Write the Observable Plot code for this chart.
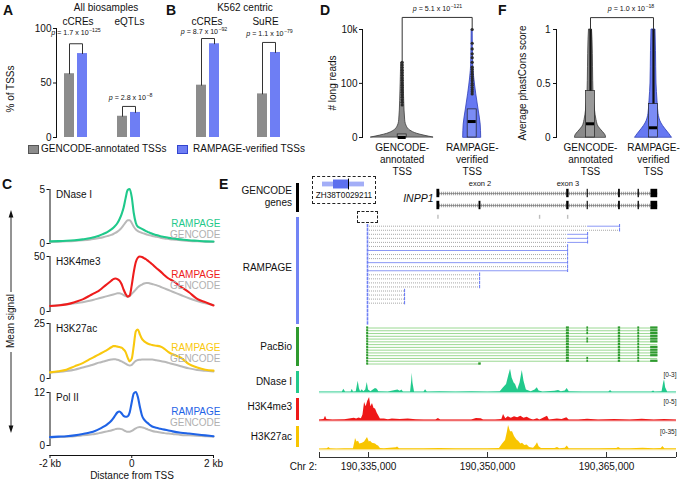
<!DOCTYPE html>
<html>
<head>
<meta charset="utf-8">
<script src="https://cdn.jsdelivr.net/npm/d3@7"></script>
<script src="https://cdn.jsdelivr.net/npm/@observablehq/plot@0.6"></script>
<style>
html,body{margin:0;padding:0;background:#fff;}
#fig{position:relative;width:680px;height:483px;overflow:hidden;background:#fff;font-family:"Liberation Sans",Arial,Helvetica,sans-serif;color:#111;}
.t{position:absolute;white-space:nowrap;line-height:1;}
.sup{font-size:5.2px;position:relative;top:-3px;margin-left:0.4px;}
.box{position:absolute;border:1px dashed #222;box-sizing:border-box;}
.tb{position:absolute;width:3.6px;left:295.7px;}
.sw{position:absolute;box-sizing:border-box;border:1px solid;width:11px;height:9px;top:145px;}
</style>
</head>
<body>
<div id="fig"></div>
<script>
// ================= DATA =================
// Panels A / B: % of TSSs overlapping
const seriesNames = ["GENCODE-annotated TSSs", "RAMPAGE-verified TSSs"];
const barColors = ["#8c8c8c", "#6e7ef4"];
const barTicks = [0, 50, 100];
const aTitle = "All biosamples";
const aCategories = ["cCREs", "eQTLs"];
const aGencode = [58.5, 19.5];
const aRampage = [77, 23];
const aBracket = [86, 28.5];
const aPMantissa = ["1.7", "2.8"];
const aPExponent = ["−125", "−8"];
const bTitle = "K562 centric";
const bCategories = ["cCREs", "SuRE"];
const bGencode = [48, 40];
const bRampage = [86, 78];
const bBracket = [90.8, 87.2];
const bPMantissa = ["8.7", "1.1"];
const bPExponent = ["−92", "−79"];

// Panels D / F: violins
const violinCategories = ["GENCODE-\nannotated\nTSS", "RAMPAGE-\nverified\nTSS"];
const dTicks = [0, 100, 10000];
const dTickLabels = ["0", "100", "10k"];
const dGencodeLevels = [0, 0.37, 0.82, 1.4, 3.3, 22, 100, 600];
const dGencodeWidth = [31, 15, 8, 5, 3, 2, 1.5, 1];
const dRampageLevels = [0, 2, 9, 41, 166, 500, 10000];
const dRampageWidth = [9, 8.5, 6.5, 4, 2, 1, 0.5];
const dGencodeBox = [0, 0, 0.3];      // q1, median, q3
const dRampageBox = [0, 2.9, 10];
const dGencodeOutliers = [15, 19, 24, 30, 37, 46, 57, 70, 86, 105, 130, 160, 200, 250, 310, 390, 480, 600];
const dRampageOutliers = [40, 48, 58, 70, 85, 100, 125, 150, 180, 220, 270, 330, 400, 610, 900, 1250, 1900, 3100, 10000];
const dBracket = 28000;
const dPValue = ["5.1", "−121"];

const fTicks = [0, 0.5, 1];
const fGencodeLevels = [0, 0.02, 0.05, 0.1, 0.16, 0.25, 0.4, 0.65, 0.9, 1.0];
const fGencodeWidth = [15.5, 15, 12.5, 8, 6, 4.5, 3, 2.5, 2, 1.5];
const fRampageLevels = [0, 0.03, 0.08, 0.13, 0.22, 0.34, 0.5, 0.8, 1.0];
const fRampageWidth = [18.3, 16, 11.7, 8, 5, 4, 3, 2.5, 2];
const fGencodeBox = [0, 0.127, 0.43];
const fRampageBox = [0, 0.09, 0.31];
const fMax = [1, 1];
const fBracket = 1.11;
const fPValue = ["1.0", "−18"];

// Panel C: aggregate profiles around TSS
const cPositions = [-2000,-1800,-1600,-1400,-1200,-1000,-900,-800,-700,-600,-500,-450,-400,-350,-300,-250,-200,-150,-100,-50,0,50,100,150,200,250,300,350,400,450,500,600,700,800,900,1000,1200,1400,1600,1800,2000];
const cTrackNames = ["DNase I", "H3K4me3", "H3K27ac", "Pol II"];
const cTrackMax = [5, 50, 25, 12];
const cTrackColors = ["#1fc98b", "#ee1c1c", "#f9c80e", "#1f63e6"];
const dnaseRampage = [0.2,0.22,0.25,0.3,0.38,0.5, 0.6,0.72,0.88,1.05, 1.3,1.45,1.65,1.9,2.25,2.7,3.3,4.2,4.95,5.05,4.3,2.8,1.9,1.55,1.45,1.35,1.25,1.15,1.05,0.98,0.9, 0.78,0.68,0.6,0.52,0.46, 0.38,0.3,0.25,0.2,0.18];
const dnaseGencode = [0.15,0.17,0.2,0.24,0.3,0.38, 0.43,0.5,0.58,0.68, 0.8,0.88,0.98,1.1,1.25,1.45,1.7,1.95,2.15,2.15,1.9,1.55,1.3,1.15,1.05,0.98,0.92,0.86,0.8,0.75,0.7, 0.62,0.54,0.47,0.42,0.37, 0.3,0.24,0.2,0.17,0.15];
const h3k4me3Rampage = [5,5.5,6.5,8.5,11,15, 17,19,22,25, 28,29.5,30,29.5,28,25,20,16,13.5,14.5,24,36,45,49,50,49.5,48.5,47.5,46,44.5,43, 39.5,36.5,33,30,28, 22.5,17.5,11.5,8.5,5.5];
const h3k4me3Gencode = [5,6,6.5,7.5,8.5,10, 11,12,13,14, 15,15.5,16,16.5,16.5,16,15,14,13.5,14,16,18,20,22,23.5,24.5,25.5,26,26,25.5,25, 24,22.5,21,19.5,18, 15,12,9.5,7.5,6];
const h3k27acRampage = [2.8,3.3,4,5.5,7,9, 10,11,12,13, 14.2,14.7,14.7,14.5,14.3,14,13.2,12,9.5,7.8,9,15,21.5,22.3,20,18,17,16.3,15.8,15.5,15.2, 14.9,14.5,13.5,12,11, 9.5,6.5,5,4,3.6];
const h3k27acGencode = [2.7,3,3.4,4,5,6, 6.6,7.2,7.7,8.2, 8.6,8.7,8.7,8.5,8.2,7.8,7.3,6.8,6.2,5.9,6.2,7.2,8,8.4,8.5,8.6,8.6,8.6,8.6,8.6,8.6, 8.3,8,7.6,7.1,6.6, 5.6,4.6,3.9,3.5,3.2];
const polIIRampage = [1.9,2,2.1,2.3,2.6,3, 3.3,3.7,4.2,4.8, 5.6,6.2,6.9,7.5,7.7,7.3,6.7,6.5,6.6,7.5,9.8,11.8,12.1,11,8.7,6.8,5.9,5.4,5,4.6,4.3, 4,3.8,3.6,3.4,3.2, 2.9,2.7,2.5,2.3,2.1];
const polIIGencode = [1.8,1.9,2,2.1,2.3,2.5, 2.6,2.8,3,3.2, 3.4,3.55,3.7,3.8,3.8,3.7,3.5,3.25,3.1,3.1,3.3,3.6,3.9,4.1,4.2,4.1,4,3.8,3.6,3.45,3.3, 3.1,2.95,2.8,2.7,2.6, 2.4,2.3,2.2,2.1,2];
const cXTicks = [-2000, 0, 2000];

// Panel E: genome browser (positions in kb on chr2)
const eDomain = [190328.82, 190373.82];
const eRulerTicks = [190335, 190350, 190365];
const geneName = "INPP1";
const geneStart = 190343.70, geneEnd = 190371.45;
const geneExonStart = [190343.62, 190348.93, 190359.98, 190362.56, 190366.52, 190368.98, 190370.60];
const geneExonEnd   = [190343.98, 190349.17, 190360.28, 190362.70, 190366.74, 190369.14, 190371.45];
const geneExonLabels = ["", "exon 2", "exon 3", "", "", "", ""];
const transcript1Exons = [0, 2, 3, 4, 5, 6];
const transcript2Exons = [0, 1, 2, 3, 4, 5, 6];
const geneGrayMarks = [190343.75, 190356.56, 190360.10];
const insetName = "ZH38T0029211";
const insetThin = [190334.65, 190335.07];
const insetThick = [190334.76, 190334.91];
const insetMark = 190334.91;
const insetDomain = [190334.55, 190335.19];
const rampageTss = 190334.87;
const rampageEnds = [190366.64,190366.64,190362.61,190362.61,190362.61,190360.09,190360.09,190360.09,190360.09,190360.09,190360.09,190360.09,190349.0,190349.0,190349.0,190349.0,190339.54,190339.54,190339.54,190339.54,190334.87,190334.87,190334.87,190334.87,190334.87];
const rampageJunctions = [190362.61,null,190360.09,190360.09,190360.09,null,null,null,null,null,null,null,null,null,null,null,null,null,null,null,null,null,null,null,null];
const rampageSolid = [0,0,0,0,0,0,1,0,0,1,0,1,0,0,0,0,0,0,0,0,0,0,0,0,0];
const pbExonStart = [190334.80, 190348.93, 190359.98, 190362.56, 190366.52, 190368.98, 190370.60];
const pbExonEnd   = [190334.98, 190349.17, 190360.28, 190362.70, 190366.74, 190369.14, 190371.45];
const pacbioEnds = [190371.45,190371.45,190371.45,190371.45,190371.45,190371.45,190371.45,190371.45,190371.45,190371.45,190371.45,190371.45,190371.45,190349.17];
const pacbioExonSets = [[0,2,3,4,5,6],[0,2,3,4,5,6],[0,2,3,4,5,6],[0,2,4,5,6],[0,2,3,4,5,6],[0,2,3,4,5,6],[0,2,4,5],[0,2,4,5,6],[0,2,4,5,6],[0,2,4,5,6],[0,2,4,5,6],[0,2,3,4,5],[0,2,3,4,5,6],[0,1]];
const dnasePos = [190328.82,190330.5,190331.7,190331.89,190332.1,190332.8,190332.95,190333.1,190333.45,190333.6,190333.7,190333.85,190334.0,190334.21,190334.4,190334.65,190334.84,190335.0,190335.3,190335.6,190335.88,190336.1,190336.3,190337.5,190338.7,190339.0,190339.2,190339.4,190340.3,190340.45,190340.51,190340.6,190340.8,190342.0,190342.19,190342.4,190344,190346,190348,190350,190351.6,190352.02,190352.4,190352.7,190352.9,190353.1,190353.35,190353.53,190353.8,190354.1,190354.38,190354.6,190354.9,190355.5,190356.0,190356.27,190356.5,190357,190358.5,190358.95,190359.3,190359.8,190360.04,190360.3,190362,190364,190365.3,190365.51,190365.7,190368,190370.7,190370.93,190371.1,190372.0,190372.2,190372.31,190372.45,190372.7,190373.82];
const dnaseVal = [0.05,0.05,0.05,0.4,0.05,0.05,0.4,0.05,0.1,0.9,1.4,0.5,0.1,0.35,0.1,0.3,1.25,0.3,0.1,0.3,0.5,0.4,0.1,0.05,0.3,0.15,0.3,0.05,0.05,1.5,2.4,1.2,0.05,0.05,0.35,0.05,0.1,0.05,0.1,0.05,0.1,0.6,1.0,2.2,2.9,1.8,1.2,1.0,0.3,1.2,2.75,1.4,0.3,0.1,0.3,0.6,0.2,0.05,0.15,0.25,0.1,0.2,0.5,0.1,0.05,0.05,0.05,0.25,0.05,0.05,0.05,0.2,0.05,0.1,1.2,1.6,0.6,0.05,0.05];
const h3k4me3Pos = [190328.82,190329.4,190329.58,190329.75,190330.5,190332,190333.2,190333.5,190333.8,190334.1,190334.3,190334.5,190334.7,190334.9,190335.13,190335.3,190335.5,190335.7,190335.88,190336.1,190336.26,190336.5,190337,190337.5,190338,190339,190340,190341,190342,190343.5,190343.8,190344.1,190346,190348,190348.6,190349.2,190349.5,190351,190351.8,190352.02,190352.3,190352.6,190353,190353.4,190353.8,190354.2,190354.6,190355,190355.4,190355.8,190356.3,190356.6,190357.56,190357.8,190358.8,190359.4,190360.0,190360.3,190361.5,190362.61,190364,190366,190368,190369.5,190371,190372.3,190373.82];
const h3k4me3Val = [0.1,0.2,0.9,0.2,0.1,0.15,0.5,0.3,0.55,0.4,1.2,3.9,3.0,4.2,5,3.0,3.7,2.6,2.5,1.6,1.1,0.3,0.3,0.15,0.35,0.2,0.3,0.15,0.1,0.1,0.45,0.1,0.1,0.1,0.45,0.4,0.1,0.1,0.2,1.3,0.4,0.8,0.5,0.8,0.6,0.9,0.5,0.7,0.3,0.1,0.4,0.1,0.9,0.1,0.35,0.2,0.6,0.1,0.1,0.25,0.1,0.2,0.1,0.25,0.1,0.2,0.1];
const h3k27acPos = [190328.82,190329.8,190330.0,190330.2,190331,190332,190333.1,190333.3,190333.36,190333.55,190333.74,190333.9,190334.24,190334.5,190334.87,190335.1,190335.25,190335.5,190335.88,190336.1,190336.26,190336.5,190337,190338.5,190338.66,190338.9,190340,190342,190344,190346,190348,190350,190351.5,190351.9,190352.27,190352.5,190352.65,190352.9,190353.15,190353.4,190353.7,190353.91,190354.2,190354.41,190354.7,190355.0,190355.3,190355.8,190356.1,190356.3,190356.5,190356.8,190358.5,190358.82,190359.1,190359.8,190360.05,190360.3,190362,190364,190366.3,190366.52,190366.8,190368,190369.6,190371,190371.9,190372.1,190372.35,190373.82];
const h3k27acVal = [0.8,1.0,3,1.0,0.8,1.0,1.2,12,16,11,12,8,9,11,17.5,11,12,9,8,6,5,1.5,1.0,2.5,3.5,1.0,1.2,1.0,1.3,1.0,1.2,1.2,1.5,8,13,25,35,26,26,19,14,12,8,9,6,6.5,3,2,6,10,4,1.5,1.5,3,1.2,2,5,1.2,1.2,1.2,1.5,3,1.2,1.2,2,1.2,1.5,4.5,1.2,1.0];
const signalNames = ["DNase I", "H3K4me3", "H3K27ac"];
const signalRanges = ["[0-3]", "[0-5]", "[0-35]"];
const signalMax = [3, 5, 35];
const signalColors = ["#22c98c", "#ee1818", "#f8c500"];
const signalBase = ["#a6ead0", "#f06a6a", "#fbe38a"];

// ================= HELPERS =================
const fig = document.getElementById("fig");
const FONT = '"Liberation Sans", Arial, Helvetica, sans-serif';
const baseStyle = {fontFamily: FONT, fontSize: "10px", background: "transparent", overflow: "visible", color: "#111"};
function place(el, left, top) {
  el.style.position = "absolute"; el.style.left = left + "px"; el.style.top = top + "px";
  fig.appendChild(el); return el;
}
function T(html, x, y, o = {}) {
  const d = document.createElement("div");
  d.className = "t"; d.innerHTML = html;
  const tx = o.anchor === "start" ? "0" : o.anchor === "end" ? "-100%" : "-50%";
  d.style.left = x + "px"; d.style.top = y + "px";
  d.style.fontSize = (o.size || 10) + "px";
  if (o.weight) d.style.fontWeight = o.weight;
  if (o.color) d.style.color = o.color;
  if (o.italic) d.style.fontStyle = "italic";
  d.style.transform = `translate(${tx},-50%)` + (o.rotate ? ` rotate(${o.rotate}deg)` : "");
  fig.appendChild(d); return d;
}
function pval(m, e, x, y) { T(`<i>p</i> = ${m} x 10<span class="sup">${e}</span>`, x, y, {size: 7.1}); }

// ================= PANELS A / B =================
function barPanel(cats, gen, ramp, br, o) {
  const rows = cats.flatMap((c, i) => [
    {cat: c, s: seriesNames[0], v: gen[i]}, {cat: c, s: seriesNames[1], v: ramp[i]}]);
  const brRows = cats.flatMap((c, i) => [
    {cat: c, s: seriesNames[0], v: gen[i]}, {cat: c, s: seriesNames[0], v: br[i]},
    {cat: c, s: seriesNames[1], v: br[i]}, {cat: c, s: seriesNames[1], v: ramp[i]}]);
  return Plot.plot({
    width: o.width, height: 145, marginLeft: o.ml, marginRight: o.mr, marginTop: 28, marginBottom: 8,
    style: baseStyle,
    fx: {domain: cats, paddingInner: o.fpi, paddingOuter: o.fpo, axis: null, label: null},
    x: {domain: seriesNames, paddingInner: 0.222, paddingOuter: 0.593, axis: null},
    y: {domain: [0, 100], ticks: barTicks, tickFormat: d => String(d), tickSize: 3, tickPadding: 2, line: true, label: null, axis: o.axis ? "left" : null},
    color: {domain: seriesNames, range: barColors},
    marks: [
      Plot.barY(rows, {fx: "cat", x: "s", y: "v", fill: "s"}),
      Plot.line(brRows, {fx: "cat", x: "s", y: "v", z: "cat", stroke: "#333", strokeWidth: 1})
    ]
  });
}
place(barPanel(aCategories, aGencode, aRampage, aBracket, {width: 170, ml: 44, mr: 9.02, fpi: 0.25, fpo: 0.2195, axis: true}), 0, 0);
place(barPanel(bCategories, bGencode, bRampage, bBracket, {width: 140, ml: 0, mr: 3.9, fpi: 0.348, fpo: 0.2807, axis: false}), 170, 0);

// ================= VIOLIN PANELS (D, F) =================
function violinPanel(o) {
  const marks = [];
  o.levels.forEach((lv, k) => {
    const rows = lv.map((v, j) => ({v, w: o.widths[k][j] / o.pxPerCat}));
    marks.push(Plot.areaX(rows, {y: "v", x1: d => k - d.w, x2: d => k + d.w, fill: o.fills[k], stroke: o.strokes[k], strokeWidth: 0.8, curve: "monotone-y"}));
  });
  o.boxes.forEach((b, k) => {
    marks.push(Plot.rect([b], {x1: k - 4.5 / o.pxPerCat, x2: k + 4.5 / o.pxPerCat, y1: d => d[0], y2: d => d[2], fill: o.boxFills[k], stroke: "#222", strokeWidth: 0.7}));
  });
  if (o.whisker) o.whisker.forEach((mx, k) => marks.push(Plot.ruleX([k], {x: d => d, y1: o.boxes[k][2], y2: mx, stroke: "#111", strokeWidth: 2.2})));
  if (o.outliers) o.outliers.forEach((pts, k) => marks.push(Plot.dot(pts, {x: () => k, y: d => d, r: 1.6, fill: "#2a2a2a", stroke: "none"})));
  o.boxes.forEach((b, k) => marks.push(Plot.ruleY([b[1]], {y: d => d, x1: k - 4 / o.pxPerCat, x2: k + 4 / o.pxPerCat, stroke: "#000", strokeWidth: 3})));
  const tops = o.tops;
  marks.push(Plot.line([{x: 0, y: tops[0]}, {x: 0, y: o.bracket}, {x: 1, y: o.bracket}, {x: 1, y: tops[1]}], {x: "x", y: "y", stroke: "#333", strokeWidth: 1}));
  marks.push(Plot.text(violinCategories, {x: (d, i) => i, text: d => d, frameAnchor: "bottom", lineAnchor: "top", dy: 5, lineHeight: 1.2, fill: "#111"}));
  return Plot.plot({
    width: o.width, height: 185, marginLeft: o.ml, marginRight: o.mr, marginTop: 29, marginBottom: 48,
    style: baseStyle,
    x: {domain: o.xdomain, axis: null},
    y: o.y,
    marks
  });
}
place(violinPanel({
  width: 215, ml: 62, mr: 3, xdomain: [-0.567, 1.576], pxPerCat: 70,
  y: {type: "symlog", constant: 1, domain: [0, 10000], ticks: dTicks, tickFormat: d => dTickLabels[dTicks.indexOf(d)], tickSize: 3, tickPadding: 2, line: true, label: null},
  levels: [dGencodeLevels, dRampageLevels], widths: [dGencodeWidth, dRampageWidth],
  fills: ["#8a8a8a", "#6678f2"], strokes: ["#3a3a3a", "#2c3cb8"], boxFills: ["#9a9a9a", "#7b8cf5"],
  boxes: [dGencodeBox, dRampageBox],
  outliers: [dGencodeOutliers, dRampageOutliers],
  tops: [d3.max(dGencodeOutliers), d3.max(dRampageOutliers)], bracket: dBracket
}), 300, 0);
place(violinPanel({
  width: 180, ml: 56, mr: 2, xdomain: [-0.54, 1.397], pxPerCat: 63,
  y: {domain: [0, 1], ticks: fTicks, tickFormat: d => String(d), tickSize: 3, tickPadding: 3, line: true, label: null},
  levels: [fGencodeLevels, fRampageLevels], widths: [fGencodeWidth, fRampageWidth],
  fills: ["#8a8a8a", "#6678f2"], strokes: ["#3a3a3a", "#2c3cb8"], boxFills: ["#9a9a9a", "#7b8cf5"],
  boxes: [fGencodeBox, fRampageBox], whisker: fMax,
  tops: fMax, bracket: fBracket
}), 500, 0);

// ================= PANEL C =================
const cRampage = [dnaseRampage, h3k4me3Rampage, h3k27acRampage, polIIRampage];
const cGencode = [dnaseGencode, h3k4me3Gencode, h3k27acGencode, polIIGencode];
const cTop = [189, 256, 323, 392], cBottom = [243, 311, 378, 445];
const cLabelDy = [30, 14, 20, 15];
cTrackNames.forEach((name, i) => {
  const rows = arr => cPositions.map((p, j) => ({pos: p, v: arr[j]}));
  const svg = Plot.plot({
    width: 230, height: cBottom[i] - cTop[i] + 12, marginTop: 8, marginBottom: 4, marginLeft: 49.5, marginRight: 17,
    style: baseStyle,
    x: {domain: [-2000, 2000], axis: null},
    y: {domain: [0, cTrackMax[i]], ticks: [0, cTrackMax[i]], tickFormat: d => String(d), tickSize: 3, tickPadding: 2, line: true, label: null},
    marks: [
      Plot.line(rows(cGencode[i]), {x: "pos", y: "v", stroke: "#b9b9b9", strokeWidth: 2, curve: "monotone-x"}),
      Plot.line(rows(cRampage[i]), {x: "pos", y: "v", stroke: cTrackColors[i], strokeWidth: 2.1, curve: "monotone-x"}),
      Plot.text([name], {text: d => d, frameAnchor: "top-left", dx: 6, dy: 1, textAnchor: "start", fill: "#111"}),
      Plot.text(["RAMPAGE"], {text: d => d, frameAnchor: "top-right", dx: 7, dy: cLabelDy[i], textAnchor: "end", fill: cTrackColors[i]}),
      Plot.text(["GENCODE"], {text: d => d, frameAnchor: "top-right", dx: 7, dy: cLabelDy[i] + 11, textAnchor: "end", fill: "#b0b0b0"})
    ]
  });
  place(svg, 0, cTop[i] - 8);
});
place(Plot.plot({
  width: 230, height: 33, marginTop: 0, marginBottom: 28, marginLeft: 49.5, marginRight: 17,
  style: baseStyle,
  x: {domain: [-2000, 2000], ticks: cXTicks, tickFormat: d => d === 0 ? "0" : (d < 0 ? "-" : "") + Math.abs(d) / 1000 + " kb", tickSize: 3, tickPadding: 1, line: true, label: null},
  marks: [Plot.ruleX(cXTicks, {x: d => d, strokeOpacity: 0})]
}), 0, 450);

// ================= PANEL E =================
function ePlot(top, height, mt, mb, y, marks) {
  return place(Plot.plot({
    width: 380, height, marginLeft: 19, marginRight: 4, marginTop: mt, marginBottom: mb,
    style: baseStyle, x: {domain: eDomain, axis: null}, y, marks
  }), 300, top);
}
// gene models
const geneRows = [transcript1Exons, transcript2Exons];
const exonRows = geneRows.flatMap((set, r) => set.map(k => ({row: r, s: geneExonStart[k], e: geneExonEnd[k]})));
const exonLabelRows = geneExonLabels.map((l, k) => ({l, x: (geneExonStart[k] + geneExonEnd[k]) / 2})).filter(d => d.l);
ePlot(176, 50, 17, 9, {domain: [0, 2], reverse: true, axis: null}, [
  Plot.ruleY([0, 1], {y: d => d, x1: geneStart, x2: geneEnd, stroke: "#a3a3a3", strokeWidth: 3.6, strokeDasharray: "1.1,0.9"}),
  Plot.ruleY([0, 1], {y: d => d, x1: geneStart, x2: geneEnd, stroke: "#6d6d6d", strokeWidth: 0.6}),
  Plot.rect(exonRows, {x1: "s", x2: "e", y1: d => d.row - 0.35, y2: d => d.row + 0.35, fill: "#000"}),
  Plot.ruleX(geneGrayMarks, {x: d => d, y1: 1.82, y2: 2.15, stroke: "#bdbdbd", strokeWidth: 1.4}),
  Plot.text([geneName], {text: d => d, x: geneStart, y: 0.45, dx: -4, textAnchor: "end", fontStyle: "italic", fontSize: 10.5, fill: "#111"}),
  Plot.text(exonLabelRows, {text: "l", x: "x", y: 0, dy: -10, fontSize: 7.5, fill: "#111"})
]);
// inset gene
place(Plot.plot({
  width: 64, height: 16, margin: 0, style: baseStyle,
  x: {domain: insetDomain, axis: null}, y: {domain: [-1, 1], axis: null},
  marks: [
    Plot.rect([insetThin], {x1: d => d[0], x2: d => d[1], y1: -0.3, y2: 0.3, fill: "#a3aef7"}),
    Plot.rect([insetThick], {x1: d => d[0], x2: d => d[1], y1: -0.56, y2: 0.56, fill: "#5d70ee"}),
    Plot.ruleX([insetMark], {x: d => d, y1: -0.68, y2: 0.68, stroke: "#000", strokeWidth: 1})
  ]
}), 312, 176);
// RAMPAGE reads
const rampRows = rampageEnds.map((e, i) => ({row: i, end: e, j: rampageJunctions[i], solid: rampageSolid[i]}));
ePlot(218, 112, 7.7, 7.1, {domain: [0, rampRows.length - 1], reverse: true, axis: null}, [
  Plot.ruleY(rampRows.filter(d => !d.solid && d.end > rampageTss), {y: "row", x1: rampageTss, x2: d => d.j ?? d.end, stroke: "#9c9c9c", strokeWidth: 0.9, strokeDasharray: "1,1"}),
  Plot.ruleY(rampRows.filter(d => d.solid), {y: "row", x1: rampageTss, x2: "end", stroke: "#8b98f5", strokeWidth: 1}),
  Plot.ruleY(rampRows.filter(d => d.j), {y: "row", x1: "j", x2: "end", stroke: "#8b98f5", strokeWidth: 1}),
  Plot.ruleX(rampRows, {x: rampageTss, y1: d => d.row - 0.42, y2: d => d.row + 0.42, stroke: "#6f80f5", strokeWidth: 1.6}),
  Plot.ruleX(rampRows.filter(d => d.end > rampageTss), {x: "end", y1: d => d.row - 0.42, y2: d => d.row + 0.42, stroke: "#6f80f5", strokeWidth: 1.1})
]);
// PacBio reads
const pbRows = pacbioEnds.map((e, i) => ({row: i, end: e}));
const pbExons = pacbioExonSets.flatMap((set, i) => set.map(k => ({row: i, s: pbExonStart[k], e: pbExonEnd[k]})));
ePlot(324, 46, 3.5, 6.5, {domain: [0, pbRows.length - 1], reverse: true, axis: null}, [
  Plot.ruleY(pbRows, {y: "row", x1: rampageTss, x2: "end", stroke: "#8fd486", strokeWidth: 0.9}),
  Plot.rect(pbExons, {x1: "s", x2: "e", y1: d => d.row - 0.4, y2: d => d.row + 0.4, fill: "#2f9a2f", insetLeft: -0.3, insetRight: -0.3})
]);
// signal tracks
const sigPos = [dnasePos, h3k4me3Pos, h3k27acPos];
const sigVal = [dnaseVal, h3k4me3Val, h3k27acVal];
const sigTop = [366, 395, 423], sigH = [28, 27, 28], sigLabelDy = [3.5, 1.5, 3.5];
signalNames.forEach((n, i) => {
  const rows = sigPos[i].map((p, j) => ({pos: p, v: sigVal[i][j]}));
  ePlot(sigTop[i], sigH[i], 2, 2, {domain: [0, signalMax[i]], axis: null}, [
    Plot.ruleY([0], {y: d => d, stroke: signalBase[i], strokeWidth: 1.6}),
    Plot.areaY(rows, {x: "pos", y: "v", fill: signalColors[i], curve: "linear"}),
    Plot.text([signalRanges[i]], {text: d => d, frameAnchor: "top-right", dy: sigLabelDy[i], textAnchor: "end", fontSize: 6.5, fill: "#222"})
  ]);
});
// ruler
ePlot(448, 35, 4, 26, {domain: [0, 1], axis: null}, [
  Plot.ruleY([0], {y: d => d, stroke: "#333", strokeWidth: 1}),
  Plot.tickX(eRulerTicks.concat(eDomain), {x: d => d, stroke: "#333", strokeWidth: 1}),
  Plot.axisX({ticks: eRulerTicks, tickFormat: d => d3.format(",")(Math.round(d * 1000)), tickSize: 0, tickPadding: 5, fontSize: 10})
]);

// ================= TEXT / DECORATION =================
T("A", 3, 10, {anchor: "start", size: 14, weight: "bold"});
T(aTitle, 106, 8);
T(aCategories[0], 78, 22); T(aCategories[1], 129.5, 22);
T("B", 166, 10, {anchor: "start", size: 14, weight: "bold"});
T(bTitle, 245, 8);
T(bCategories[0], 207, 22); T(bCategories[1], 265.5, 22);
T("D", 320, 10, {anchor: "start", size: 14, weight: "bold"});
T("F", 498, 10, {anchor: "start", size: 14, weight: "bold"});
T("C", 2, 184, {anchor: "start", size: 14, weight: "bold"});
T("E", 219, 184, {anchor: "start", size: 14, weight: "bold"});
T("% of TSSs", 10.5, 89, {rotate: -90});
T("# long reads", 333, 83, {rotate: -90});
T("Average phastCons score", 523, 83, {rotate: -90});
T("Mean signal", 11, 321, {rotate: -90});
T("Distance from TSS", 132, 475.5);
pval(aPMantissa[0], aPExponent[0], 76, 33.5);
pval(aPMantissa[1], aPExponent[1], 130.5, 99);
pval(bPMantissa[0], bPExponent[0], 204, 32.5);
pval(bPMantissa[1], bPExponent[1], 269.5, 34.5);
pval(dPValue[0], dPValue[1], 437.5, 9.5);
pval(fPValue[0], fPValue[1], 631, 9.5);
// legend
const sw1 = document.createElement("div"); sw1.className = "sw"; sw1.style.left = "28px"; sw1.style.background = barColors[0]; sw1.style.borderColor = "#555"; fig.appendChild(sw1);
const sw2 = document.createElement("div"); sw2.className = "sw"; sw2.style.left = "177px"; sw2.style.background = barColors[1]; sw2.style.borderColor = "#3345d0"; fig.appendChild(sw2);
T(seriesNames[0], 41, 149, {anchor: "start"});
T(seriesNames[1], 193, 149, {anchor: "start"});
// E track labels and colour bars
[["GENCODE", 191], ["genes", 203], ["RAMPAGE", 268], ["PacBio", 347], ["DNase I", 382], ["H3K4me3", 407], ["H3K27ac", 437]].forEach(([s, y]) => T(s, 292, y, {anchor: "end"}));
[[183, 212, "#000"], [217, 324, "#7284f5"], [327, 366, "#2e9a2e"], [371, 393, "#22c98c"], [398, 419.5, "#ee1818"], [425.5, 447, "#f8c500"]].forEach(([a, b, c]) => {
  const d = document.createElement("div"); d.className = "tb"; d.style.top = a + "px"; d.style.height = (b - a) + "px"; d.style.background = c; fig.appendChild(d);
});
T("Chr 2:", 317, 467, {anchor: "end"});
T(insetName, 344, 196, {size: 8.2});
[[312, 176, 64, 28], [357, 211, 21, 12]].forEach(([x, y, w, h]) => {
  const d = document.createElement("div"); d.className = "box"; d.style.left = x + "px"; d.style.top = y + "px"; d.style.width = w + "px"; d.style.height = h + "px"; fig.appendChild(d);
});
// mean signal arrows
fig.insertAdjacentHTML("beforeend", `<svg width="680" height="483" style="position:absolute;left:0;top:0;pointer-events:none">
<path d="M11,216V292M11,352V427" stroke="#111" stroke-width="0.9" fill="none"/>
<path d="M11,210L8.6,217.5H13.4Z M11,433L8.6,425.5H13.4Z" fill="#111"/></svg>`);
</script>
</body>
</html>
